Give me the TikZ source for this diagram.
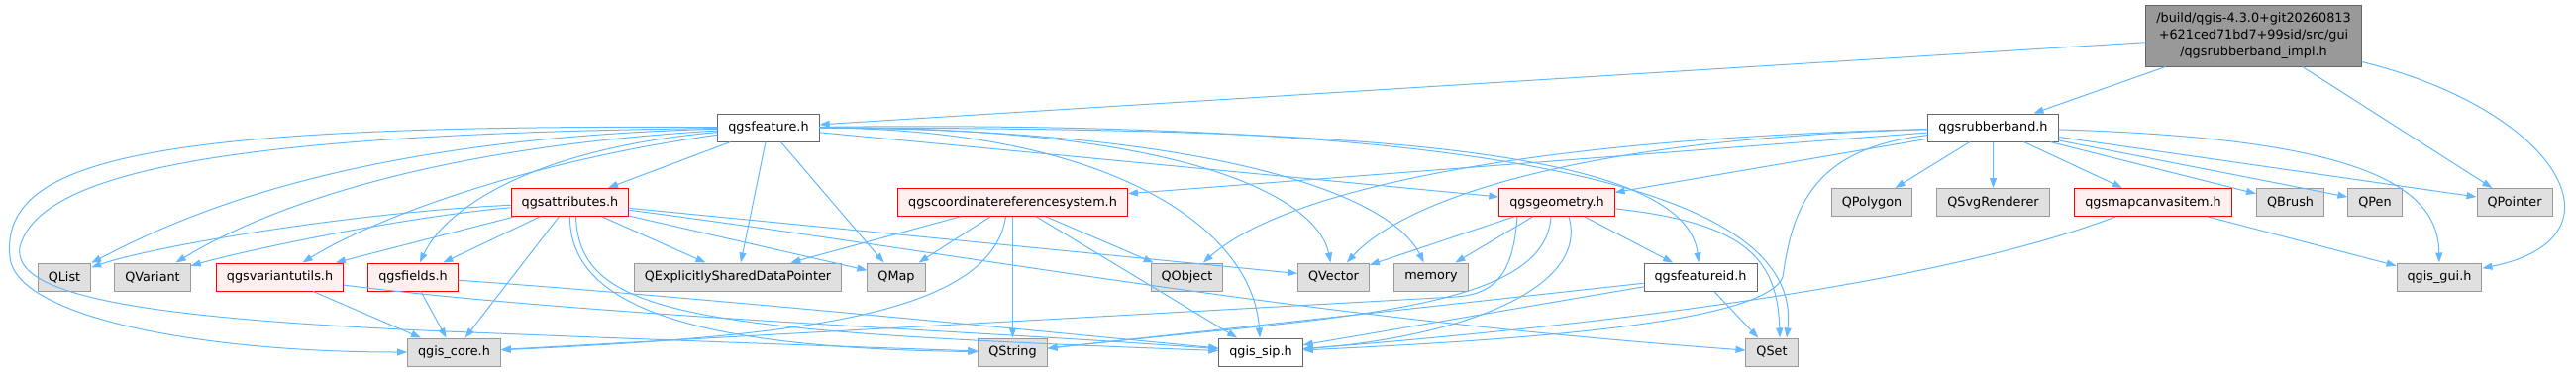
\documentclass[tikz,border=0pt]{standalone}
\usepackage{fontspec}
\setmainfont{DejaVu Sans}
\usetikzlibrary{arrows.meta}
\definecolor{edgeblue}{HTML}{63B8FF}
\definecolor{extfill}{HTML}{E0E0E0}
\definecolor{extline}{HTML}{999999}
\definecolor{truncfill}{HTML}{FFF0F0}
\definecolor{hdrline}{HTML}{666666}
\definecolor{curfill}{HTML}{999999}
\begin{document}
\begin{tikzpicture}[x=1pt,y=-1pt,>={Triangle[length=10pt,width=7pt]},
 font=\fontsize{12.8}{16.7}\selectfont,
 nd/.style={draw,line width=1pt,minimum height=28pt,inner xsep=10.5pt,inner ysep=0pt},
 ext/.style={nd,fill=extfill,draw=extline},
 trunc/.style={nd,fill=truncfill,draw=red},
 hdr/.style={nd,fill=white,draw=hdrline},
 cur/.style={nd,fill=curfill,draw=hdrline,align=center,minimum height=62pt},
 dep/.style={->,draw=edgeblue,line width=1pt}]
\useasboundingbox (0,0) rectangle (2601,375);
% nodes, row by row
\node[cur] (main) at (2275.5,36) {/build/qgis-4.3.0+git20260813\\+621ced71bd7+99sid/src/gui\\/qgsrubberband\_impl.h};
\node[hdr] (feat) at (776,129) {qgsfeature.h};
\node[hdr] (rubb) at (2012.5,129) {qgsrubberband.h};
\node[trunc] (attr) at (575.5,204.5) {qgsattributes.h};
\node[trunc] (crs) at (1022.5,204.5) {qgscoordinatereferencesystem.h};
\node[trunc] (geom) at (1572,204.5) {qgsgeometry.h};
\node[ext] (qpoly) at (1890,204.5) {QPolygon};
\node[ext] (qsvg) at (2012.5,204.5) {QSvgRenderer};
\node[trunc] (mci) at (2174,204.5) {qgsmapcanvasitem.h};
\node[ext] (qbrush) at (2312.5,204.5) {QBrush};
\node[ext] (qpen) at (2398,204.5) {QPen};
\node[ext] (qptr) at (2539,204.5) {QPointer};
\node[ext] (qlist) at (65,280) {QList};
\node[ext] (qvar) at (154,280) {QVariant};
\node[trunc] (vutil) at (282.5,280) {qgsvariantutils.h};
\node[trunc] (flds) at (417,280) {qgsfields.h};
\node[ext] (qesdp) at (745,280) {QExplicitlySharedDataPointer};
\node[ext] (qmap) at (905,280) {QMap};
\node[ext] (qobj) at (1198.5,280) {QObject};
\node[ext] (qvec) at (1346.5,280) {QVector};
\node[ext] (mem) at (1445,280) {memory};
\node[hdr] (fid) at (1717,280) {qgsfeatureid.h};
\node[ext] (gui) at (2463,280) {qgis\_gui.h};
\node[ext] (core) at (458.5,356) {qgis\_core.h};
\node[ext] (qstr) at (1022.5,356) {QString};
\node[hdr] (sip) at (1273,356) {qgis\_sip.h};
\node[ext] (qset) at (1789,356) {QSet};
% main file
\draw[dep] (main) -- (feat);
\draw[dep] (main) -- (rubb);
\draw[dep] (main) -- (qptr);
\draw[dep] (main) .. controls (2580,110) and (2660,240) .. (gui);
% qgsrubberband.h
\draw[dep] (rubb) -- (qpoly);
\draw[dep] (rubb) -- (qsvg);
\draw[dep] (rubb) -- (mci);
\draw[dep] (rubb) -- (qbrush);
\draw[dep] (rubb) -- (qpen);
\draw[dep] (rubb) -- (qptr);
\draw[dep] (rubb) .. controls (2390,140) and (2462,190) .. (gui);
\draw[dep] (rubb) -- (geom);
\draw[dep] (rubb) -- (crs);
\draw[dep] (rubb) .. controls (1550,140) and (1300,190) .. (qobj);
\draw[dep] (rubb) .. controls (1600,140) and (1420,200) .. (qvec);
\draw[dep] (rubb) .. controls (1830,150) and (1810,210) .. (1800,280) .. controls (1780,330) and (1500,345) .. (sip);
% qgsfeature.h
\draw[dep] (feat) -- (attr);
\draw[dep] (feat) -- (qesdp);
\draw[dep] (feat) -- (qmap);
\draw[dep] (feat) .. controls (350,140) and (180,220) .. (qlist);
\draw[dep] (feat) .. controls (420,150) and (260,215) .. (qvar);
\draw[dep] (feat) .. controls (520,165) and (370,225) .. (vutil);
\draw[dep] (feat) .. controls (540,150) and (450,210) .. (flds);
\draw[dep] (feat) .. controls (150,125) and (0,160) .. (10,260) .. controls (16,320) and (200,356) .. (core);
\draw[dep] (feat) .. controls (250,135) and (40,170) .. (20,250) .. controls (12,300) and (150,322) .. (450,335) .. controls (700,345) and (900,352) .. (qstr);
\draw[dep] (feat) .. controls (1120,130) and (1265,230) .. (sip);
\draw[dep] (feat) .. controls (1200,128) and (1330,200) .. (qvec);
\draw[dep] (feat) .. controls (1200,130) and (1400,190) .. (mem);
\draw[dep] (feat) -- (geom);
\draw[dep] (feat) .. controls (1300,130) and (1700,140) .. (fid);
\draw[dep] (feat) .. controls (1550,120) and (1820,200) .. ([xshift=15pt]qset.north);
% qgsattributes.h
\draw[dep] (attr) .. controls (350,215) and (150,250) .. (qlist);
\draw[dep] (attr) .. controls (400,220) and (240,255) .. (qvar);
\draw[dep] (attr) -- (vutil);
\draw[dep] (attr) -- (flds);
\draw[dep] (attr) -- (core);
\draw[dep] (attr) -- (qesdp);
\draw[dep] (attr) -- (qmap);
\draw[dep] (attr) -- (qvec);
\draw[dep] (attr) .. controls (1000,260) and (1300,320) .. (qset);
\draw[dep] (attr) .. controls (575,310) and (700,352) .. (qstr);
\draw[dep] ([xshift=6pt]attr.south) .. controls (585,320) and (700,335) .. (sip);
% qgsfields.h, qgsvariantutils.h
\draw[dep] (flds) -- (core);
\draw[dep] (flds) .. controls (700,300) and (1000,330) .. (sip);
\draw[dep] (vutil) -- (core);
\draw[dep] (vutil) .. controls (600,320) and (1000,335) .. (sip);
% qgscoordinatereferencesystem.h
\draw[dep] (crs) -- (qesdp);
\draw[dep] (crs) -- (qmap);
\draw[dep] (crs) -- (qobj);
\draw[dep] (crs) -- (qstr);
\draw[dep] (crs) -- (sip);
\draw[dep] ([xshift=-7pt]crs.south) .. controls (1000,320) and (800,340) .. (core);
% qgsgeometry.h
\draw[dep] (geom) -- (qvec);
\draw[dep] (geom) -- (mem);
\draw[dep] (geom) -- (fid);
\draw[dep] (geom) .. controls (1760,225) and (1795,260) .. ([xshift=8pt]qset.north);
\draw[dep] ([xshift=-40pt]geom.south) .. controls (1528,270) and (1515,297) .. (1470,300) -- (core);
\draw[dep] ([xshift=-6pt]geom.south) .. controls (1560,315) and (1350,320) .. (qstr);
\draw[dep] ([xshift=12pt]geom.south) .. controls (1605,290) and (1480,340) .. (sip);
% qgsfeatureid.h
\draw[dep] (fid) -- (qset);
\draw[dep] (fid) -- (qstr);
\draw[dep] (fid) -- (sip);
% qgsmapcanvasitem.h
\draw[dep] (mci) -- (gui);
\draw[dep] (mci) .. controls (1950,290) and (1600,330) .. (sip);
\end{tikzpicture}
\end{document}
